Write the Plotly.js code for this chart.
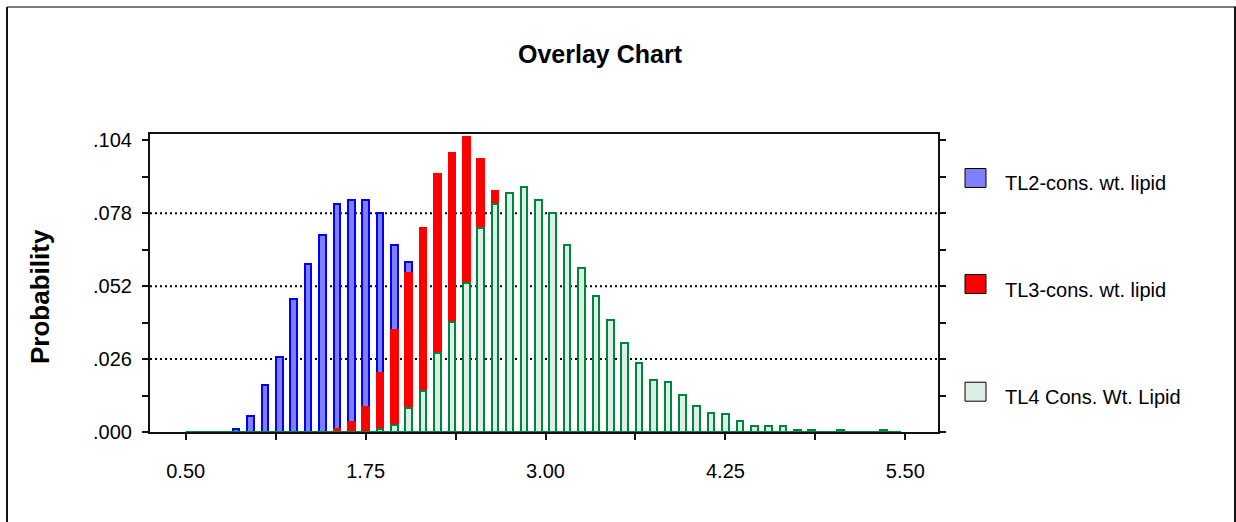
<!DOCTYPE html>
<html>
<head>
<meta charset="utf-8">
<script src="https://cdn.plot.ly/plotly-3.0.1.min.js"></script>
<style>html,body{margin:0;padding:0;background:#fff;}#chart{width:1236px;height:522px;}</style>
</head>
<body>
<div id="chart"></div>
<script>
// ---- data ----
const bins = [0.55,0.65,0.75,0.85,0.95,1.05,1.15,1.25,1.35,1.45,
              1.55,1.65,1.75,1.85,1.95,2.05,2.15,2.25,2.35,2.45,
              2.55,2.65,2.75,2.85,2.95,3.05,3.15,3.25,3.35,3.45,
              3.55,3.65,3.75,3.85,3.95,4.05,4.15,4.25,4.35,4.45,
              4.55,4.65,4.75,4.85,4.95,5.05,5.15,5.25,5.35,5.45];
const tl2 = [0,0,0,0.0009,0.0056,0.0169,0.0269,0.0475,0.0599,0.0703,
             0.0813,0.0827,0.0827,0.0781,0.0668,0.0607,null,null,null,null,
             null,null,null,null,null,null,null,null,null,null,
             null,null,null,null,null,null,null,null,null,null,
             null,null,null,null,null,null,null,null,null,null];
const tl3 = [0,0,0,0,0,0,0,0,0,0,
             0.0011,0.0035,0.0089,0.0212,0.0363,0.0566,0.0728,0.0921,0.0997,0.1052,
             0.0975,0.0860,null,null,null,null,null,null,null,null,
             null,null,null,null,null,null,null,null,null,null,
             null,null,null,null,null,null,null,null,null,null];
const tl4 = [0,0,0,0,0,0,0,0,0,0,
             0,0,0,0.0010,0.0024,0.0087,0.0146,0.0283,0.0393,0.0530,
             0.0726,0.0813,0.0851,0.0873,0.0827,0.0781,0.0667,0.0586,0.0485,0.0399,
             0.0316,0.0247,0.0187,0.0177,0.0132,0.0092,0.0068,0.0063,0.0041,0.0023,
             0.0023,0.0023,0.0008,0.0008,0,0.0008,0,0,0.0008,0];
const seriesNames = ['TL2-cons. wt. lipid','TL3-cons. wt. lipid','TL4 Cons. Wt. Lipid'];
const xTickVals = [0.5,1.125,1.75,2.375,3.0,3.625,4.25,4.875,5.5];
const xTickText = ['0.50','','1.75','','3.00','','4.25','','5.50'];
const yTickVals = [0,0.026,0.052,0.078,0.104];
const yTickText = ['.000','.026','.052','.078','.104'];
const yMinorVals = [0.013,0.039,0.065,0.091];
const yGridVals = [0.026,0.052,0.078];

// ---- styles ----
const fills = ['#8080ff','#ff0000','#dcefe4'];
const edges = ['#0000ff','#ff0000','#00843f'];
const swatchEdge = '#000000';
const FONT = '"Liberation Sans", Arial, Helvetica, sans-serif';
const binW = 0.1;
const barW = 0.046;

// page geometry (px)
const W = 1236, H = 522;
const M = {l:150, r:W-938, t:134, b:H-432};
const PW = W - M.l - M.r, PH = H - M.t - M.b;
const px = x => (x - M.l) / PW;
const py = y => (H - M.b - y) / PH;

const series = [tl2, tl3, tl4];
const traces = series.map((vals, i) => ({
  type: 'bar', x: bins, y: vals, name: seriesNames[i], width: barW,
  marker: {color: fills[i], line: {color: edges[i], width: 2}},
  showlegend: false, hoverinfo: 'x+y+name'
}));

const shapes = [];
// dotted gridlines
yGridVals.forEach(v => shapes.push({type:'line', xref:'paper', yref:'y', x0:0, x1:1, y0:v, y1:v,
  layer:'below', line:{color:'#000', width:2, dash:'2px,3px'}}));
// green baseline under the TL4 series range
shapes.push({type:'line', xref:'x', yref:'y', x0:bins[0]-binW/2, x1:bins[bins.length-1]+binW/2 - 0.03, y0:0, y1:0,
  layer:'above', line:{color:edges[2], width:2}});
// outer frame
shapes.push({type:'line', xref:'paper', yref:'paper', x0:px(7), x1:px(1236), y0:py(7), y1:py(7), line:{color:'#7a7a7a', width:2}});
shapes.push({type:'line', xref:'paper', yref:'paper', x0:px(7), x1:px(7), y0:py(7), y1:py(530), line:{color:'#111', width:2}});
shapes.push({type:'line', xref:'paper', yref:'paper', x0:px(1235), x1:px(1235), y0:py(7), y1:py(530), line:{color:'#111', width:2}});

// custom legend
const legSwatchY = [178, 284, 391.7];
const legTextY = [182.7, 290, 396.7];
const annotations = [];
seriesNames.forEach((n, i) => {
  shapes.push({type:'rect', xref:'paper', yref:'paper',
    x0:px(965), x1:px(986), y0:py(legSwatchY[i]-9.5), y1:py(legSwatchY[i]+9.5),
    fillcolor: fills[i], line:{color: swatchEdge, width:1}});
  annotations.push({xref:'paper', yref:'paper', x:px(1003), y:py(legTextY[i]), xanchor:'left', yanchor:'middle',
    text:n, showarrow:false, font:{family:FONT, size:20, color:'#000'}});
});
// y title
annotations.push({xref:'paper', yref:'paper', x:px(40), y:py(297), xanchor:'center', yanchor:'middle',
  text:'Probability', textangle:-90, showarrow:false, font:{family:FONT, size:26, color:'#000', weight:700}});

const layout = {
  width: W, height: H,
  margin: M,
  paper_bgcolor:'#fff', plot_bgcolor:'#fff',
  barmode:'overlay', bargap:0,
  title:{text:'Overlay Chart', font:{family:FONT, size:25, color:'#000', weight:700},
    x:600/W, xanchor:'center', xref:'container', y:1-54/H, yanchor:'middle', yref:'container'},
  xaxis:{range:[0.252,5.727], tickmode:'array', tickvals:xTickVals, ticktext:xTickText,
    ticks:'outside', ticklen:6, tickwidth:1.5, tickcolor:'#111',
    showline:true, linecolor:'#111', linewidth:2, mirror:true,
    showgrid:false, zeroline:false, automargin:false, ticklabelstandoff:14,
    tickfont:{family:FONT, size:20, color:'#000'}},
  yaxis:{range:[0,0.1063], tickmode:'array', tickvals:yTickVals, ticktext:yTickText,
    ticks:'outside', ticklen:6, tickwidth:1.5, tickcolor:'#111',
    minor:{tickmode:'array', tickvals:yMinorVals, ticks:'outside', ticklen:6, tickwidth:1.5, tickcolor:'#111', showgrid:false},
    showline:true, linecolor:'#111', linewidth:2, mirror:'ticks',
    showgrid:false, zeroline:false, automargin:false, ticklabelstandoff:6,
    tickfont:{family:FONT, size:20, color:'#000'}},
  shapes: shapes,
  annotations: annotations,
  showlegend:false
};

Plotly.newPlot('chart', traces, layout, {displayModeBar:false, responsive:false});
</script>
</body>
</html>
